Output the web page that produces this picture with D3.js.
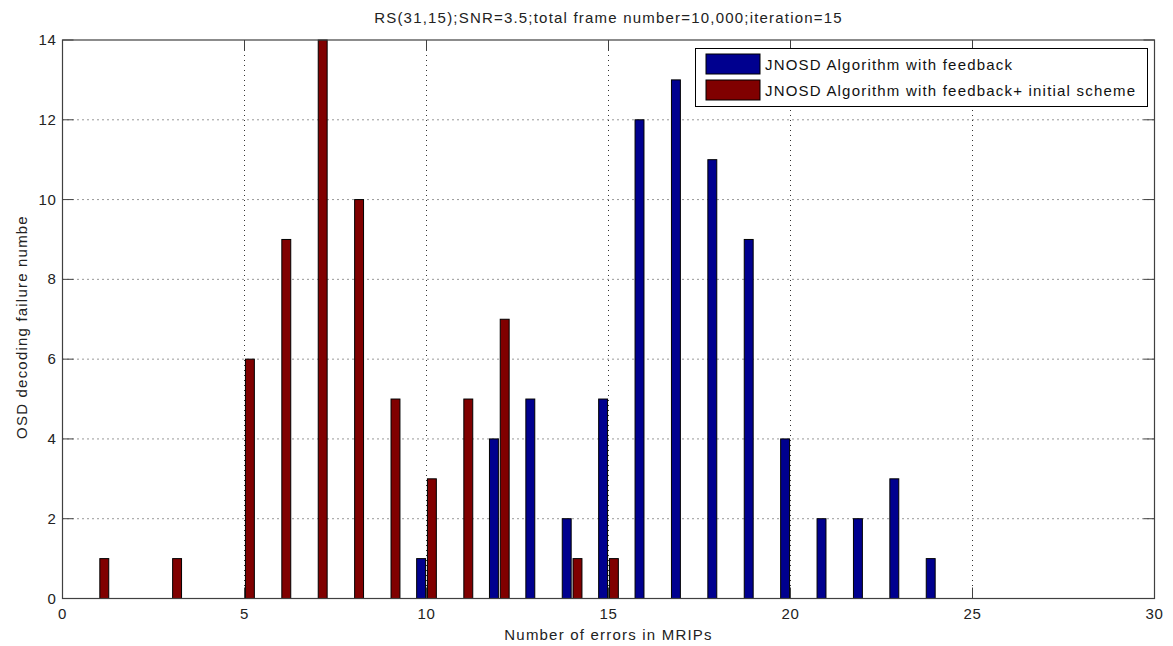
<!DOCTYPE html>
<html><head><meta charset="utf-8">
<script src="https://cdn.jsdelivr.net/npm/d3@7"></script>
<style>
body{margin:0;background:#fff;}
text{font-family:"Liberation Sans",Arial,sans-serif;}
</style></head><body>
<svg id="c" width="1173" height="646"></svg>
<script>
const categories = [1,2,3,4,5,6,7,8,9,10,11,12,13,14,15,16,17,18,19,20,21,22,23,24];
const feedback      = [0,0,0,0,0,0,0,0,0,1,0,4,5,2,5,12,13,11,9,4,2,2,3,1];
const feedbackInit  = [1,0,1,0,6,9,14,10,5,3,5,7,0,1,1,0,0,0,0,0,0,0,0,0];
const seriesNames = ["JNOSD Algorithm with feedback","JNOSD Algorithm with feedback+ initial scheme"];
const seriesColors = ["#00008f","#800000"];
const xTicks = [0,5,10,15,20,25,30];
const yTicks = [0,2,4,6,8,10,12,14];
const title = "RS(31,15);SNR=3.5;total frame number=10,000;iteration=15";
const xLabel = "Number of errors in MRIPs";
const yLabel = "OSD decoding failure numbe";

const svg = d3.select("#c");
const L=62.5, R=1154.5, T=40, B=598.5;
const x = d3.scaleLinear().domain([0,30]).range([L,R]);
const y = d3.scaleLinear().domain([0,14]).range([B,T]);
const axisCol="#404040";
const txtCol="#222";
const LS = "1.2px";

// grid
const g = svg.append("g");
xTicks.slice(1,-1).forEach(t=>{
  g.append("line").attr("x1",x(t)).attr("x2",x(t)).attr("y1",T).attr("y2",B)
   .attr("stroke","#333").attr("stroke-width",1).attr("stroke-dasharray","1,4");
});
yTicks.slice(1,-1).forEach(t=>{
  g.append("line").attr("x1",L).attr("x2",R).attr("y1",y(t)).attr("y2",y(t))
   .attr("stroke","#333").attr("stroke-width",1).attr("stroke-dasharray","1,4");
});

// bars
const off = [-0.148, 0.148], bw = 0.245;
[feedback, feedbackInit].forEach((vals,si)=>{
  svg.append("g").selectAll("rect").data(categories.map((c,i)=>({c,v:vals[i]})).filter(d=>d.v>0))
   .join("rect")
   .attr("x",d=>x(d.c+off[si]-bw/2)).attr("width",x(bw)-x(0))
   .attr("y",d=>y(d.v)).attr("height",d=>y(0)-y(d.v))
   .attr("fill",seriesColors[si]).attr("stroke","#000").attr("stroke-width",1);
});

// axes box & ticks
const ax = svg.append("g");
ax.append("rect").attr("x",L).attr("y",T).attr("width",R-L).attr("height",B-T)
  .attr("fill","none").attr("stroke",axisCol).attr("stroke-width",1.2);
const tl=11;
xTicks.forEach(t=>{
  ax.append("line").attr("x1",x(t)).attr("x2",x(t)).attr("y1",B).attr("y2",B-tl).attr("stroke",axisCol);
  ax.append("line").attr("x1",x(t)).attr("x2",x(t)).attr("y1",T).attr("y2",T+tl).attr("stroke",axisCol);
  ax.append("text").attr("x",x(t)).attr("y",B+20).attr("text-anchor","middle")
    .attr("font-size",15).attr("letter-spacing","0.6px").attr("fill",txtCol).text(t);
});
yTicks.forEach(t=>{
  ax.append("line").attr("x1",L).attr("x2",L+tl).attr("y1",y(t)).attr("y2",y(t)).attr("stroke",axisCol);
  ax.append("line").attr("x1",R).attr("x2",R-tl).attr("y1",y(t)).attr("y2",y(t)).attr("stroke",axisCol);
  ax.append("text").attr("x",L-6).attr("y",y(t)+5).attr("text-anchor","end")
    .attr("font-size",15).attr("letter-spacing","0.6px").attr("fill",txtCol).text(t);
});

// labels
svg.append("text").attr("x",(L+R)/2).attr("y",23).attr("text-anchor","middle")
  .attr("font-size",15).attr("letter-spacing",LS).attr("fill",txtCol).text(title);
svg.append("text").attr("x",(L+R)/2).attr("y",640).attr("text-anchor","middle")
  .attr("font-size",15).attr("letter-spacing",LS).attr("fill",txtCol).text(xLabel);
svg.append("text").attr("transform",`translate(27,${327}) rotate(-90)`).attr("text-anchor","middle")
  .attr("font-size",15).attr("letter-spacing",LS).attr("fill",txtCol).text(yLabel);

// legend
const lg = svg.append("g");
lg.append("rect").attr("x",695.5).attr("y",48.5).attr("width",452).attr("height",58)
  .attr("fill","#fff").attr("stroke","#000").attr("stroke-width",1);
seriesNames.forEach((n,i)=>{
  const yy = 54 + i*26;
  lg.append("rect").attr("x",706).attr("y",yy).attr("width",54).attr("height",20)
    .attr("fill",seriesColors[i]).attr("stroke","#000");
  lg.append("text").attr("x",765).attr("y",yy+15.5).attr("font-size",15)
    .attr("letter-spacing",LS).attr("fill","#111").text(n);
});
</script>
</body></html>
